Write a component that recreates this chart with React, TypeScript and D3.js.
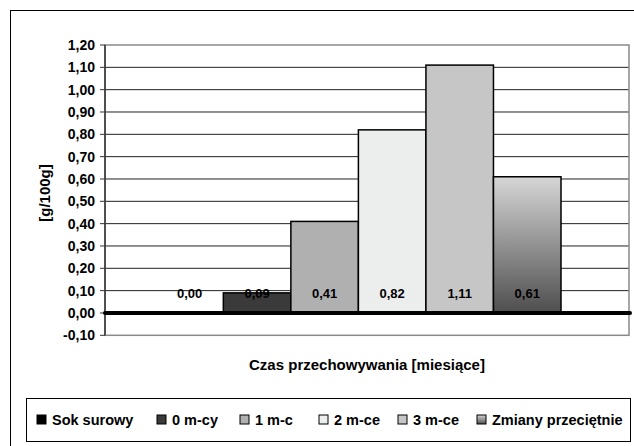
import React from "react";
import * as d3 from "d3";

const categories = ["Sok surowy", "0 m-cy", "1 m-c", "2 m-ce", "3 m-ce", "Zmiany przeciętnie"];
const values = [0.0, 0.09, 0.41, 0.82, 1.11, 0.61];
const valueLabels = ["0,00", "0,09", "0,41", "0,82", "1,11", "0,61"];
const yTicks = [-0.1, 0, 0.1, 0.2, 0.3, 0.4, 0.5, 0.6, 0.7, 0.8, 0.9, 1.0, 1.1, 1.2];
const yTickLabels = ["-0,10", "0,00", "0,10", "0,20", "0,30", "0,40", "0,50", "0,60", "0,70", "0,80", "0,90", "1,00", "1,10", "1,20"];
const yTitle = "[g/100g]";
const xTitle = "Czas przechowywania [miesiące]";

const W = 634;
const H = 446;
const plotLeft = 105;
const plotRight = 629;
const plotTop = 45;
const plotBottom = 335.3;
const FONT = "'Liberation Sans', Arial, sans-serif";

const fills = ["#000000", "#3a3a3a", "#b0b0b0", "#eceeed", "#c6c6c6", "url(#gradZ)"];
const legendMarkerX = [37, 157, 240, 319, 398, 477];

export default function App() {
  const y = d3.scaleLinear().domain([-0.1, 1.2]).range([plotBottom, plotTop]);
  const x = d3.scaleBand<string>().domain(categories).range([155.8, 561]).paddingInner(0).paddingOuter(0);
  const y0 = y(0);

  return (
    <svg
      width={W}
      height={H}
      style={{ position: "absolute", left: 0, top: 0, background: "#fff" }}
      fontFamily={FONT}
      fontWeight="bold"
    >
      <defs>
        <linearGradient id="gradZ" x1="0" y1="0" x2="0" y2="1">
          <stop offset="0%" stopColor="#d6d6d6" />
          <stop offset="100%" stopColor="#4e4e4e" />
        </linearGradient>
      </defs>
      <rect x={0} y={0} width={W} height={H} fill="#fff" />
      {/* outer frame */}
      <rect x={10.5} y={10.5} width={W + 10} height={H + 10} fill="none" stroke="#000" strokeWidth={1} />

      {/* gridlines */}
      {yTicks.map((t, i) =>
        t > -0.1 && t < 1.2 && t !== 0 ? (
          <line key={"g" + i} x1={plotLeft} x2={plotRight} y1={y(t)} y2={y(t)} stroke="#222" strokeWidth={1} />
        ) : null
      )}
      {/* plot border */}
      <rect
        x={plotLeft}
        y={plotTop}
        width={plotRight - plotLeft}
        height={plotBottom - plotTop}
        fill="none"
        stroke="#8a8a8a"
        strokeWidth={1.5}
      />

      {/* bars */}
      {categories.map((c, i) => {
        const v = values[i];
        if (v === 0) return null;
        const yt = y(v);
        return (
          <rect
            key={"b" + i}
            x={x(c)}
            y={yt}
            width={x.bandwidth()}
            height={y0 - yt}
            fill={fills[i]}
            stroke="#000"
            strokeWidth={1.5}
          />
        );
      })}

      {/* y axis */}
      <line x1={plotLeft} x2={plotLeft} y1={plotTop} y2={plotBottom} stroke="#333" strokeWidth={1.5} />
      {yTicks.map((t, i) => (
        <g key={"t" + i}>
          <line x1={plotLeft - 5} x2={plotLeft} y1={y(t)} y2={y(t)} stroke="#333" strokeWidth={1} />
          <text x={95} y={y(t)} dy="0.35em" textAnchor="end" fontSize={14} fill="#000">
            {yTickLabels[i]}
          </text>
        </g>
      ))}

      {/* zero axis line */}
      <line x1={plotLeft} x2={plotRight + 1} y1={y0} y2={y0} stroke="#000" strokeWidth={4} strokeLinecap="round" />

      {/* value labels */}
      {categories.map((c, i) => (
        <text
          key={"v" + i}
          x={(x(c) as number) + x.bandwidth() / 2}
          y={y0 - 15}
          textAnchor="middle"
          fontSize={13}
          fill="#000"
        >
          {valueLabels[i]}
        </text>
      ))}

      {/* titles */}
      <text x={367} y={370} textAnchor="middle" fontSize={15} fill="#000">
        {xTitle}
      </text>
      <text transform={`translate(50,193) rotate(-90)`} textAnchor="middle" fontSize={15} fill="#000">
        {yTitle}
      </text>

      {/* legend */}
      <rect x={26.5} y={398.5} width={604} height={43} fill="#fff" stroke="#000" strokeWidth={1} />
      {categories.map((c, i) => (
        <g key={"l" + i}>
          <rect x={legendMarkerX[i]} y={415} width={9} height={9} fill={fills[i]} stroke="#000" strokeWidth={1} />
          <text x={legendMarkerX[i] + 15} y={425} fontSize={14.5} fill="#000">
            {c}
          </text>
        </g>
      ))}
    </svg>
  );
}
